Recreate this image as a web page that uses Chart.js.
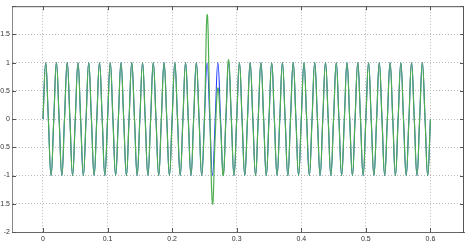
<!DOCTYPE html>
<html>
<head>
<meta charset="utf-8">
<script src="https://cdn.jsdelivr.net/npm/chart.js@4.4.1/dist/chart.umd.min.js"></script>
<style>
html,body{margin:0;padding:0;background:#fff;}
canvas{display:block;}
</style>
</head>
<body>
<canvas id="c" width="469" height="251"></canvas>
<script>
// sample times (s), quarter-period spacing of the 60 Hz wave
const times = [
0,0.0042,0.0083,0.0125,0.0167,0.0208,0.025,0.0292,0.0333,0.0375,0.0417,0.0458,
0.05,0.0542,0.0583,0.0625,0.0667,0.0708,0.075,0.0792,0.0833,0.0875,0.0917,0.0958,
0.1,0.1042,0.1083,0.1125,0.1167,0.1208,0.125,0.1292,0.1333,0.1375,0.1417,0.1458,
0.15,0.1542,0.1583,0.1625,0.1667,0.1708,0.175,0.1792,0.1833,0.1875,0.1917,0.1958,
0.2,0.2042,0.2083,0.2125,0.2167,0.2208,0.225,0.2292,0.2333,0.2375,0.2417,0.2458,
0.25,0.2542,0.2583,0.2625,0.2667,0.2708,0.275,0.2792,0.2833,0.2875,0.2917,0.2958,
0.3,0.3042,0.3083,0.3125,0.3167,0.3208,0.325,0.3292,0.3333,0.3375,0.3417,0.3458,
0.35,0.3542,0.3583,0.3625,0.3667,0.3708,0.375,0.3792,0.3833,0.3875,0.3917,0.3958,
0.4,0.4042,0.4083,0.4125,0.4167,0.4208,0.425,0.4292,0.4333,0.4375,0.4417,0.4458,
0.45,0.4542,0.4583,0.4625,0.4667,0.4708,0.475,0.4792,0.4833,0.4875,0.4917,0.4958,
0.5,0.5042,0.5083,0.5125,0.5167,0.5208,0.525,0.5292,0.5333,0.5375,0.5417,0.5458,
0.55,0.5542,0.5583,0.5625,0.5667,0.5708,0.575,0.5792,0.5833,0.5875,0.5917,0.5958,
0.6];

// reference sine (blue), 12 values per row = 0.05 s
const blueValues = [
0,1,0,-1, 0,1,0,-1, 0,1,0,-1,
0,1,0,-1, 0,1,0,-1, 0,1,0,-1,
0,1,0,-1, 0,1,0,-1, 0,1,0,-1,
0,1,0,-1, 0,1,0,-1, 0,1,0,-1,
0,1,0,-1, 0,1,0,-1, 0,1,0,-1,
0,1,0,-1, 0,1,0,-1, 0,1,0,-1,
0,1,0,-1, 0,1,0,-1, 0,1,0,-1,
0,1,0,-1, 0,1,0,-1, 0,1,0,-1,
0,1,0,-1, 0,1,0,-1, 0,1,0,-1,
0,1,0,-1, 0,1,0,-1, 0,1,0,-1,
0,1,0,-1, 0,1,0,-1, 0,1,0,-1,
0,1,0,-1, 0,1,0,-1, 0,1,0,-1,
0];

// measured signal (green) with the transient near 0.25 s
const greenValues = [
0,1,0,-1, 0,1,0,-1, 0,1,0,-1,
0,1,0,-1, 0,1,0,-1, 0,1,0,-1,
0,1,0,-1, 0,1,0,-1, 0,1,0,-1,
0,1,0,-1, 0,1,0,-1, 0,1,0,-1,
0,1,0,-1, 0,1,0,-1, 0,1,0,-1,
0,1.85,0.15,-1.5, -0.3,0.55,-0.1,-1.0, 0.05,1.05,0,-1,
0,1,0,-1, 0,1,0,-1, 0,1,0,-1,
0,1,0,-1, 0,1,0,-1, 0,1,0,-1,
0,1,0,-1, 0,1,0,-1, 0,1,0,-1,
0,1,0,-1, 0,1,0,-1, 0,1,0,-1,
0,1,0,-1, 0,1,0,-1, 0,1,0,-1,
0,1,0,-1, 0,1,0,-1, 0,1,0,-1,
0];

const xTicks = [0, 0.1, 0.2, 0.3, 0.4, 0.5, 0.6];
const xTickLabels = ['0', '0.1', '0.2', '0.3', '0.4', '0.5', '0.6'];
const yTicks = [-2, -1.5, -1, -0.5, 0, 0.5, 1, 1.5, 2];
const yTickLabels = ['-2', '-1.5', '-1', '-0.5', '0', '0.5', '1', '1.5', ''];

const toPoints = vals => vals.map((v, i) => ({x: times[i], y: v}));

const boxPlugin = {
  id: 'box',
  afterDraw(chart) {
    const {ctx, chartArea: a, scales} = chart;
    ctx.save();
    ctx.strokeStyle = '#555';
    ctx.lineWidth = 1;
    ctx.beginPath();
    ctx.moveTo(a.left, a.top + 0.5); ctx.lineTo(a.right, a.top + 0.5);
    ctx.moveTo(a.right - 0.5, a.top); ctx.lineTo(a.right - 0.5, a.bottom);
    xTicks.forEach(v => {
      const px = Math.round(scales.x.getPixelForValue(v)) + 0.5;
      ctx.moveTo(px, a.bottom); ctx.lineTo(px, a.bottom - 4);
      ctx.moveTo(px, a.top); ctx.lineTo(px, a.top + 4);
    });
    yTicks.forEach(v => {
      const py = Math.round(scales.y.getPixelForValue(v)) + 0.5;
      ctx.moveTo(a.left, py); ctx.lineTo(a.left + 4, py);
      ctx.moveTo(a.right, py); ctx.lineTo(a.right - 4, py);
    });
    ctx.stroke();
    ctx.restore();
  }
};

const tickFont = {family: '"Liberation Sans", Arial, sans-serif', size: 7};

new Chart(document.getElementById('c'), {
  type: 'line',
  data: {
    datasets: [
      {data: toPoints(blueValues), borderColor: 'rgb(30,60,255)', borderWidth: 1.05, pointRadius: 0, tension: 0.45, order: 2},
      {data: toPoints(greenValues), borderColor: 'rgb(80,175,80)', borderWidth: 1.2, pointRadius: 0, tension: 0.45, order: 1}
    ]
  },
  options: {
    responsive: false,
    animation: false,
    devicePixelRatio: 1,
    layout: {padding: {left: 0, right: 5, top: 5, bottom: 0}},
    plugins: {legend: {display: false}, tooltip: {enabled: false}},
    scales: {
      x: {
        type: 'linear', min: -0.048, max: 0.652,
        afterBuildTicks: s => { s.ticks = xTicks.map(v => ({value: v})); },
        afterFit: s => { s.height = 19; },
        ticks: {font: tickFont, color: '#333', padding: 3, maxRotation: 0,
          callback: (v, i) => xTickLabels[i]},
        grid: {color: '#b8b8b8', drawTicks: false, lineWidth: 1},
        border: {display: true, color: '#666', dash: [1, 2]}
      },
      y: {
        type: 'linear', min: -2, max: 2,
        afterBuildTicks: s => { s.ticks = yTicks.map(v => ({value: v})); },
        afterFit: s => { s.width = 12; },
        ticks: {font: tickFont, color: '#333', padding: 2,
          callback: (v, i) => yTickLabels[i]},
        grid: {color: '#b8b8b8', drawTicks: false, lineWidth: 1},
        border: {display: true, color: '#888', dash: [1, 2]}
      }
    }
  },
  plugins: [boxPlugin]
});
</script>
</body>
</html>
